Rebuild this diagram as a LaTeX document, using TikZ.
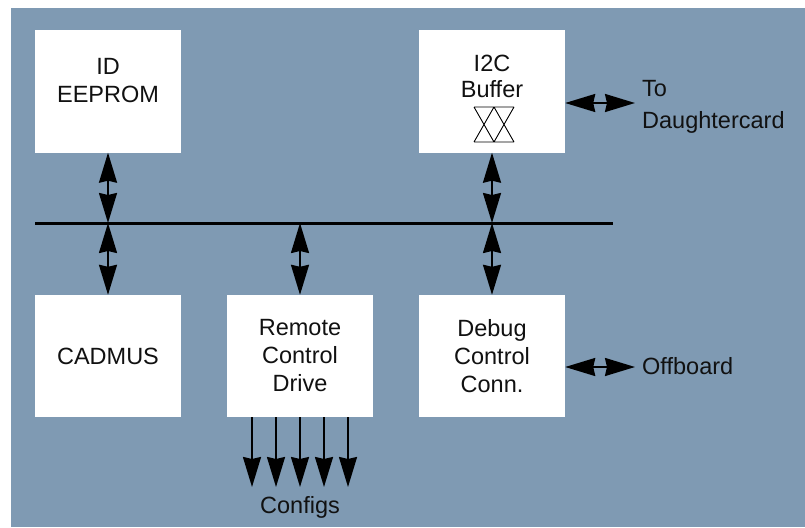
\documentclass[tikz,border=0pt]{standalone}
\usepackage{fontspec}
\setmainfont{Liberation Sans}
\usetikzlibrary{arrows.meta}
\definecolor{bgblue}{RGB}{127,154,179}
\definecolor{ink}{RGB}{17,17,17}
\begin{document}
\begin{tikzpicture}[x=1pt,y=-1pt,
  bighead/.tip={Stealth[length=30pt,width=18pt,inset=2pt]},
  box/.style={fill=white, draw=none, minimum width=146pt, minimum height=122pt,
    inner sep=0pt, align=center, font=\fontsize{23.5}{28}\selectfont, text=ink},
  lbl/.style={inner sep=0pt, font=\fontsize{23.5}{28}\selectfont, text=ink},
  biarrow/.style={line width=2pt, {bighead}-{bighead}},
  outarrow/.style={line width=2pt, -{bighead}},
  bus/.style={line width=3pt},
  sym/.style={line width=0.9pt}]
\useasboundingbox (0,0) rectangle (805,527);
\fill[bgblue] (11,8) rectangle (805,527);

% boxes
\node[box] (id)  at (108,91.5) {};
\node[box] (i2c) at (492,91.5) {};
\node[box] (cad) at (108,356) {\raisebox{-2pt}{CADMUS}};
\node[box] (rcd) at (300,356) {Remote\\Control\\Drive};
\node[box] (dbg) at (492,356) {Debug\\Control\\Conn.};

% texts inside upper boxes
\node[lbl, align=center, anchor=north] (idtext)  at (108,58.5) {ID\\EEPROM};
\node[lbl, align=center, anchor=north] (i2ctext) at (492,55) {I2C\\[-2pt]Buffer};

% buffer symbol
\draw[sym] (474,107) -- (514,107) (474,142) -- (514,142)
  (474,107) -- (494,142) (494,107) -- (474,142)
  (494,107) -- (514,142) (514,107) -- (494,142);

% bus
\coordinate (busL) at (35,223);
\coordinate (busR) at (613,223);
\draw[bus] (busL) -- (busR);

\draw[biarrow] (id.south)  -- (id.south |- busL);
\draw[biarrow] (i2c.south) -- (i2c.south |- busL);
\draw[biarrow] (cad.north) -- (cad.north |- busL);
\draw[biarrow] (rcd.north) -- (rcd.north |- busL);
\draw[biarrow] (dbg.north) -- (dbg.north |- busL);

% right side
\node[lbl, align=left, anchor=north west] (dc) at (642,80) {To\\[4pt]Daughtercard};
\coordinate (dcend) at (635,103);
\draw[biarrow] (i2c.east |- dcend) -- (dcend);

\node[lbl, anchor=west] (off) at (642,366) {Offboard};
\coordinate (offend) at (635,367);
\draw[biarrow] (dbg.east |- offend) -- (offend);

% configs
\node[lbl, anchor=base] (cfg) at (300,513) {Configs};
\coordinate (cfgtop) at (300,487);
\foreach \dx in {-48,-24,0,24,48}
  \draw[outarrow] ([xshift=\dx pt]rcd.south) -- ([xshift=\dx pt]rcd.south |- cfgtop);
\end{tikzpicture}
\end{document}
